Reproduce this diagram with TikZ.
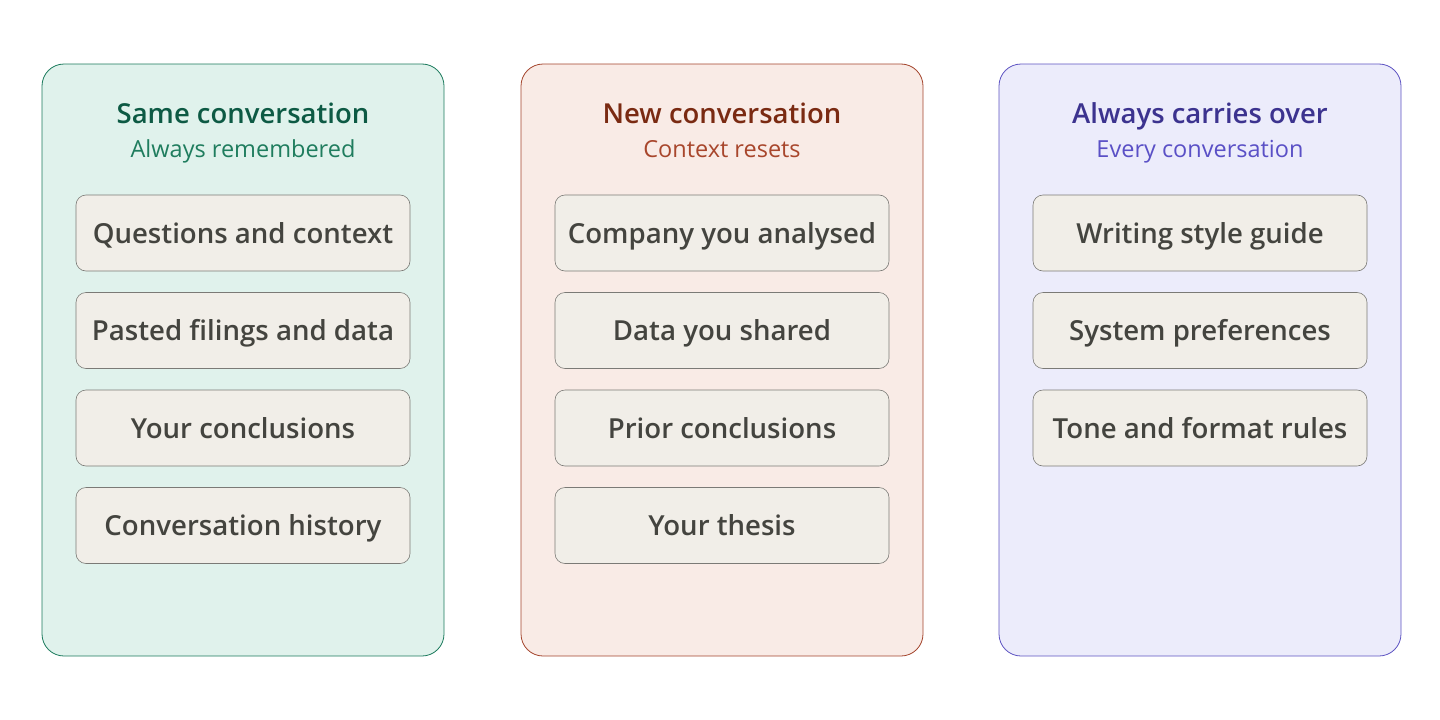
\documentclass[tikz,border=0pt]{standalone}
\usepackage{fontspec}
\setmainfont{Open Sans}[BoldFont={Open Sans Semibold}]
\usetikzlibrary{positioning}
\tikzset{>=stealth}

\definecolor{sameFill}{HTML}{E0F2EC}
\definecolor{sameLine}{HTML}{1B7A5C}
\definecolor{sameTitle}{HTML}{0D5A44}
\definecolor{sameSub}{HTML}{1F7D5E}
\definecolor{newFill}{HTML}{F9EBE6}
\definecolor{newLine}{HTML}{A3432B}
\definecolor{newTitle}{HTML}{7A2A12}
\definecolor{newSub}{HTML}{A8462C}
\definecolor{alwFill}{HTML}{ECECFB}
\definecolor{alwLine}{HTML}{5D53C2}
\definecolor{alwTitle}{HTML}{3C338F}
\definecolor{alwSub}{HTML}{5A50C6}
\definecolor{itemFill}{HTML}{F1EEE8}
\definecolor{itemLine}{HTML}{7B7A76}
\definecolor{itemText}{HTML}{44443F}

\begin{document}
\begin{tikzpicture}[x=1pt,y=-1pt,
    panel/.style={draw, line width=0.8pt, rounded corners=22pt, inner sep=0pt,
        minimum width=402pt, minimum height=592pt},
    ttl/.style={anchor=base, inner sep=0pt, font=\bfseries\fontsize{27.5}{31}\selectfont},
    sub/.style={anchor=base, inner sep=0pt, font=\fontsize{23.5}{28}\selectfont},
    item/.style={draw=itemLine, fill=itemFill, line width=0.6pt, rounded corners=10pt,
        inner sep=0pt, minimum width=334pt, minimum height=76pt, text=itemText,
        text height=20pt, text depth=0pt,
        font=\bfseries\fontsize{27.6}{31}\selectfont}]
    \useasboundingbox (0,0) rectangle (1440,720);

    % three columns
    \node[panel, draw=sameLine, fill=sameFill] (same) at (243,360) {};
    \node[panel, draw=newLine, fill=newFill] (new) at (722,360) {};
    \node[panel, draw=alwLine, fill=alwFill] (alw) at (1200,360) {};

    \node[ttl, text=sameTitle] (sameT) at (243,123) {Same conversation};
    \node[sub, text=sameSub] (sameS) at (243,157) {Always remembered};
    \node[ttl, text=newTitle] (newT) at (722,123) {New conversation};
    \node[sub, text=newSub] (newS) at (722,157) {Context resets};
    \node[ttl, text=alwTitle] (alwT) at (1200,123) {Always carries over};
    \node[sub, text=alwSub] (alwS) at (1200,157) {Every conversation};

    % items
    \foreach \txt [count=\i] in {Questions and context, Pasted filings and data,
        Your conclusions, Conversation history}
        \node[item] (same\i) at (243,135.5+97.5*\i) {\txt};
    \foreach \txt [count=\i] in {Company you analysed, Data you shared,
        Prior conclusions, Your thesis}
        \node[item] (new\i) at (722,135.5+97.5*\i) {\txt};
    \foreach \txt [count=\i] in {Writing style guide, System preferences,
        Tone and format rules}
        \node[item] (alw\i) at (1200,135.5+97.5*\i) {\txt};
\end{tikzpicture}
\end{document}
